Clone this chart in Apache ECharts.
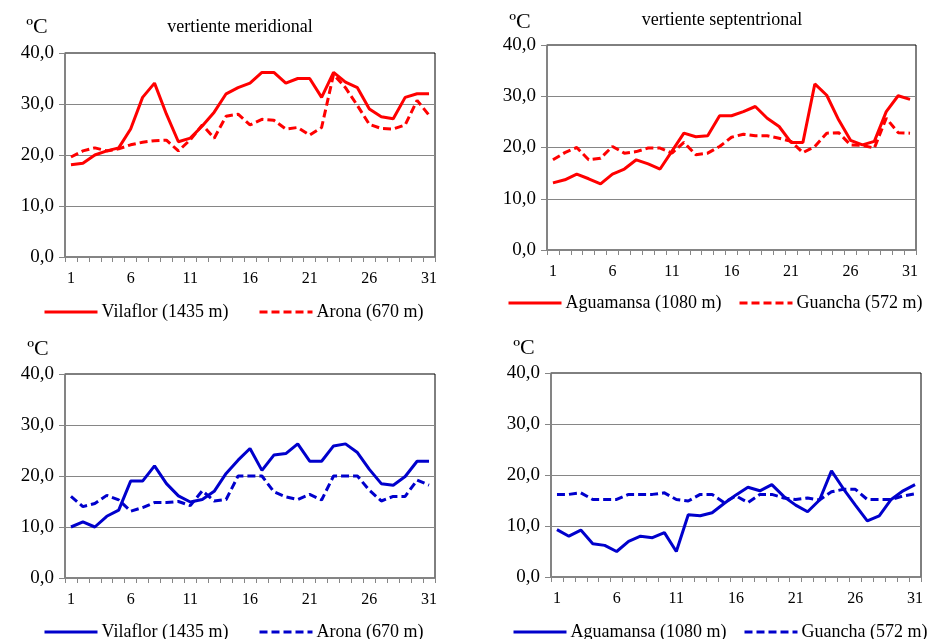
<!DOCTYPE html>
<html>
<head>
<meta charset="utf-8">
<script src="https://cdn.jsdelivr.net/npm/echarts@6/dist/echarts.min.js"></script>
<style>html,body{margin:0;padding:0;background:#fff}#c{width:927px;height:639px}</style>
</head>
<body>
<div id="c"></div>
<script>
var days = ['1','2','3','4','5','6','7','8','9','10','11','12','13','14','15','16','17','18','19','20','21','22','23','24','25','26','27','28','29','30','31'];
var yTicks = [0, 10, 20, 30, 40];

var titles = ['vertiente meridional', 'vertiente septentrional'];
var unitLabel = 'ºC';
var stationNames = ['Vilaflor (1435 m)', 'Arona (670 m)', 'Aguamansa (1080 m)', 'Guancha (572 m)'];

// top-left: maximum, southern slope
var vilaflorMax = [18.1, 18.4, 20.0, 20.8, 21.4, 25.1, 31.3, 34.1, 28.0, 22.6, 23.3, 25.7, 28.4, 32.0, 33.2, 34.1, 36.2, 36.2, 34.1, 35.0, 35.0, 31.3, 36.2, 34.3, 33.2, 29.0, 27.5, 27.1, 31.3, 32.0, 32.0];
var aronaMax = [19.6, 20.8, 21.4, 20.8, 21.2, 22.0, 22.5, 22.8, 22.9, 20.8, 23.0, 25.9, 23.3, 27.6, 28.0, 25.9, 27.0, 26.8, 25.1, 25.4, 23.9, 25.4, 35.8, 33.2, 29.7, 26.0, 25.2, 25.1, 25.9, 30.7, 27.8];
// top-right: maximum, northern slope
var aguamansaMax = [13.1, 13.7, 14.8, 13.9, 12.9, 14.8, 15.8, 17.6, 16.8, 15.8, 19.3, 22.8, 22.1, 22.3, 26.2, 26.2, 27.0, 28.0, 25.7, 24.1, 21.0, 21.0, 32.4, 30.2, 25.4, 21.4, 20.5, 21.2, 27.0, 30.1, 29.4];
var guanchaMax = [17.6, 19.0, 20.0, 17.6, 17.9, 20.2, 18.9, 19.2, 19.9, 19.9, 18.9, 21.0, 18.6, 18.9, 20.2, 22.0, 22.6, 22.3, 22.3, 21.8, 21.2, 19.0, 20.2, 22.8, 22.9, 20.5, 20.4, 19.9, 25.7, 22.9, 22.8];
// bottom-left: minimum, southern slope
var vilaflorMin = [10.0, 11.0, 10.0, 12.1, 13.3, 19.0, 19.0, 22.0, 18.5, 16.1, 14.9, 15.4, 17.0, 20.5, 23.1, 25.4, 21.1, 24.1, 24.4, 26.3, 22.9, 22.9, 25.9, 26.3, 24.6, 21.3, 18.5, 18.2, 19.9, 22.9, 22.9];
var aronaMin = [16.0, 14.0, 14.6, 16.2, 15.3, 13.1, 13.8, 14.8, 14.8, 15.0, 14.2, 17.1, 15.1, 15.4, 20.0, 20.0, 20.0, 16.9, 15.9, 15.4, 16.4, 15.3, 20.0, 20.0, 20.0, 17.2, 15.1, 16.0, 16.0, 19.2, 18.2];
// bottom-right: minimum, northern slope
var aguamansaMin = [9.3, 8.0, 9.2, 6.5, 6.2, 5.0, 7.0, 8.0, 7.7, 8.7, 5.0, 12.2, 12.0, 12.6, 14.4, 16.1, 17.6, 16.9, 18.1, 15.8, 14.1, 12.8, 15.1, 20.8, 17.3, 14.1, 11.0, 12.0, 15.2, 16.9, 18.1];
var guanchaMin = [16.2, 16.2, 16.5, 15.2, 15.2, 15.2, 16.2, 16.2, 16.2, 16.5, 15.2, 14.9, 16.2, 16.2, 14.6, 15.9, 14.6, 16.2, 16.2, 15.5, 15.2, 15.5, 15.1, 16.7, 17.2, 17.2, 15.2, 15.2, 15.2, 15.9, 16.3];

var RED = '#ff0000', BLUE = '#0000cc', GRAY = '#868686';
var FONT = '"Liberation Serif", "Times New Roman", serif';

var panels = [
  {grid: {left: 65, top: 53, width: 370, height: 204}, a: vilaflorMax, b: aronaMax, na: 0, nb: 1, color: RED,
   legA: {left: 43, top: 303}, legB: {left: 258, top: 303}},
  {grid: {left: 547, top: 45, width: 369, height: 205}, a: aguamansaMax, b: guanchaMax, na: 2, nb: 3, color: RED,
   legA: {left: 507, top: 294}, legB: {left: 738, top: 294}},
  {grid: {left: 65, top: 374, width: 370, height: 204}, a: vilaflorMin, b: aronaMin, na: 0, nb: 1, color: BLUE,
   legA: {left: 43, top: 623}, legB: {left: 258, top: 623}},
  {grid: {left: 551, top: 373, width: 370, height: 204}, a: aguamansaMin, b: guanchaMin, na: 2, nb: 3, color: BLUE,
   legA: {left: 512, top: 623}, legB: {left: 743, top: 623}}
];

var grids = [], xAxes = [], yAxes = [], series = [], legends = [], displayNames = {};
panels.forEach(function (p, i) {
  grids.push(Object.assign({show: true, borderColor: '#000', borderWidth: 1, backgroundColor: '#fff'}, p.grid));
  xAxes.push({
    type: 'category', gridIndex: i, data: days, boundaryGap: true,
    axisLine: {lineStyle: {color: GRAY, width: 1.5}},
    axisTick: {show: true, interval: 0, length: 5, lineStyle: {color: GRAY, width: 1}},
    axisLabel: {interval: 4, margin: 14, color: '#000', fontFamily: FONT, fontSize: 16}
  });
  yAxes.push({
    type: 'value', gridIndex: i, min: yTicks[0], max: yTicks[yTicks.length - 1], interval: 10,
    axisLine: {show: true, lineStyle: {color: GRAY, width: 1.5}},
    axisTick: {show: true, length: 6, lineStyle: {color: GRAY, width: 1}},
    splitLine: {show: true, showMaxLine: false, showMinLine: false, lineStyle: {color: GRAY, width: 1}},
    axisLabel: {margin: 11, color: '#000', fontFamily: FONT, fontSize: 19,
      formatter: function (v) { return v.toFixed(1).replace('.', ','); }}
  });
  var ida = 's' + i + 'a', idb = 's' + i + 'b';
  displayNames[ida] = stationNames[p.na];
  displayNames[idb] = stationNames[p.nb];
  series.push({
    name: ida, type: 'line', xAxisIndex: i, yAxisIndex: i, data: p.a, symbol: 'none',
    lineStyle: {color: p.color, width: 3, type: 'solid'}, itemStyle: {color: p.color}, animation: false
  });
  series.push({
    name: idb, type: 'line', xAxisIndex: i, yAxisIndex: i, data: p.b, symbol: 'none',
    lineStyle: {color: p.color, width: 3, type: [8, 4]}, itemStyle: {color: p.color}, animation: false
  });
  [[ida, p.legA], [idb, p.legB]].forEach(function (l) {
    legends.push({
      data: [l[0]], left: l[1].left, top: l[1].top, padding: 0, itemWidth: 53, itemHeight: 14, itemGap: 0,
      icon: undefined, itemStyle: {opacity: 0}, lineStyle: {width: 3},
      textStyle: {color: '#000', fontFamily: FONT, fontSize: 18, padding: [0, 0, 0, -1]},
      formatter: function (n) { return displayNames[n]; }, selectedMode: false
    });
  });
});

var graphics = [
  {type: 'text', x: 240, y: 27, style: {text: titles[0], font: '18px ' + FONT, fill: '#000', textAlign: 'center', textVerticalAlign: 'middle'}},
  {type: 'text', x: 722, y: 20, style: {text: titles[1], font: '18px ' + FONT, fill: '#000', textAlign: 'center', textVerticalAlign: 'middle'}},
  {type: 'text', x: 37, y: 27, style: {text: unitLabel, font: '22px ' + FONT, fill: '#000', textAlign: 'center', textVerticalAlign: 'middle'}},
  {type: 'text', x: 520, y: 22, style: {text: unitLabel, font: '22px ' + FONT, fill: '#000', textAlign: 'center', textVerticalAlign: 'middle'}},
  {type: 'text', x: 38, y: 349, style: {text: unitLabel, font: '22px ' + FONT, fill: '#000', textAlign: 'center', textVerticalAlign: 'middle'}},
  {type: 'text', x: 524, y: 348, style: {text: unitLabel, font: '22px ' + FONT, fill: '#000', textAlign: 'center', textVerticalAlign: 'middle'}}
];

var chart = echarts.init(document.getElementById('c'), null, {renderer: 'canvas'});
chart.setOption({
  animation: false,
  backgroundColor: '#fff',
  grid: grids, xAxis: xAxes, yAxis: yAxes, series: series, legend: legends, graphic: graphics
});
</script>
</body>
</html>
